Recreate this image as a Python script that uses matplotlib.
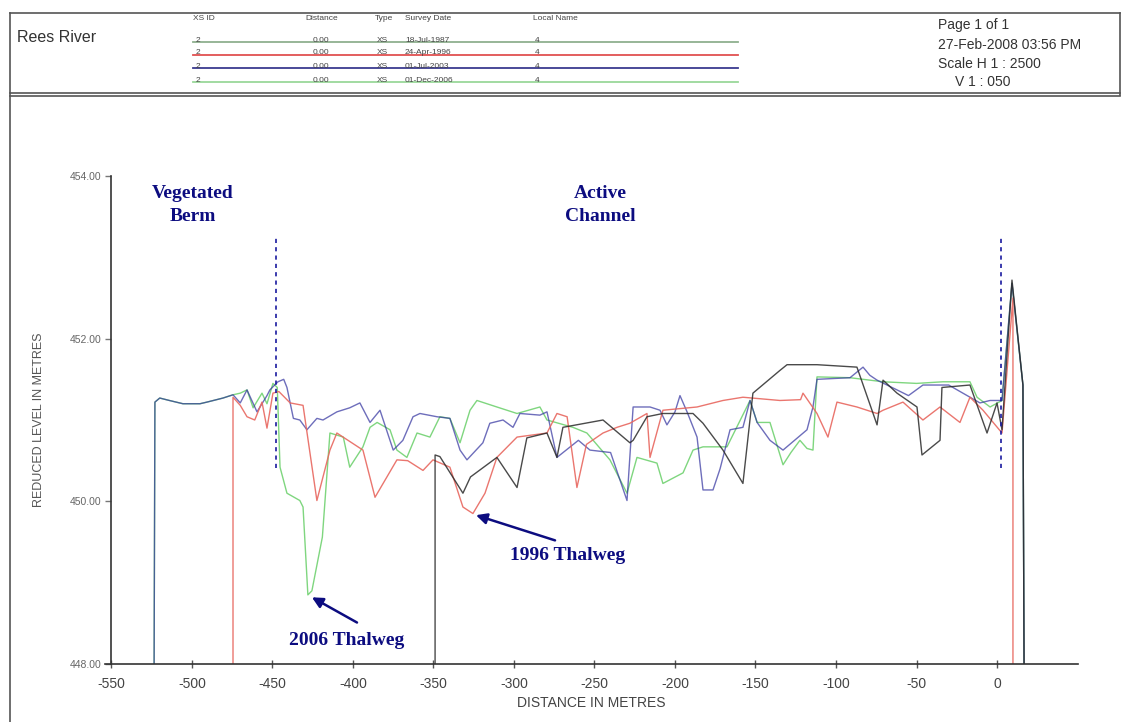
import matplotlib
matplotlib.use("Agg")
import matplotlib.pyplot as plt
from matplotlib.lines import Line2D

plt.rcParams["font.family"] = ["Liberation Sans", "DejaVu Sans"]

# survey table shown in the header
SURVEY_DATES = ["18-Jul-1987", "24-Apr-1996", "01-Jul-2003", "01-Dec-2006"]
XS_IDS = ["2", "2", "2", "2"]
DISTANCES = ["0.00", "0.00", "0.00", "0.00"]
TYPES = ["XS", "XS", "XS", "XS"]
LOCAL_NAMES = ["4", "4", "4", "4"]

# cross-section profiles (distance m, reduced level m)
d1987 = [-349, -349, -346, -331.7, -327, -310.6, -298.1, -292, -279.5, -273.3,
         -269.6, -244.7, -228, -226, -217.4, -207.5, -188.8, -182.6, -170.2,
         -157.8, -151.6, -134.8, -130.4, -111.8, -87, -74.5, -70.8, -62.1,
         -49.7, -46.6, -35.4, -34.2, -16.8, -6.2, 0, 3.1, 9.3, 16.1, 16.8]
z1987 = [448.0, 450.57, 450.55, 450.10, 450.30, 450.54, 450.17, 450.78, 450.84,
         450.54, 450.91, 451.00, 450.72, 450.75, 451.04, 451.08, 451.08, 450.96,
         450.63, 450.22, 451.33, 451.61, 451.68, 451.68, 451.65, 450.94, 451.49,
         451.33, 451.16, 450.57, 450.75, 451.40, 451.43, 450.84, 451.21, 450.88,
         452.72, 451.43, 448.0]

d1996 = [-474.5, -474.5, -470, -465.8, -461, -456.5, -453.4, -449.7, -446, -439,
         -431, -422.4, -414.3, -410, -393.8, -386.3, -372.7, -366, -356.5,
         -350.3, -339.8, -331.7, -325.5, -318, -310.6, -298.1, -279.5, -273.3,
         -267, -260.9, -255, -244.7, -236, -228, -217.4, -215.5, -207.5, -186.3,
         -170.2, -157.8, -134.8, -122, -120.5, -111.8, -105, -99.4, -87, -74.5,
         -70.8, -58.4, -46, -35.4, -23, -16.8, -8.7, 3.1, 9.9, 9.9]
z1996 = [448.0, 451.28, 451.18, 451.04, 451.00, 451.22, 450.90, 451.33, 451.35,
         451.21, 451.18, 450.01, 450.63, 450.84, 450.63, 450.05, 450.51, 450.50,
         450.38, 450.51, 450.42, 449.93, 449.85, 450.10, 450.54, 450.79, 450.84,
         451.08, 451.04, 450.17, 450.70, 450.84, 450.91, 450.96, 451.08, 450.54,
         451.12, 451.16, 451.24, 451.28, 451.24, 451.25, 451.33, 451.08, 450.79,
         451.22, 451.16, 451.08, 451.12, 451.22, 451.00, 451.16, 450.97, 451.28,
         451.12, 450.84, 452.50, 448.0]

d2003 = [-523.5, -523, -520, -514, -505.6, -495, -490.7, -480.7, -474.5, -470,
         -465.8, -459.6, -453.4, -451.6, -446.6, -443, -441, -437, -433, -428.6,
         -422.4, -418.6, -410, -402, -395.7, -389.4, -383.2, -375, -369, -362.7,
         -358.4, -347.8, -339.8, -333.5, -329.2, -319.3, -315, -306.8, -300.6,
         -296.3, -283.9, -279.5, -273.3, -260, -252.8, -240, -229.8, -226,
         -215.5, -209.3, -205, -200, -196.9, -192.5, -186.3, -182.6, -176.4, -172,
         -165.8, -157.8, -153.4, -149, -141, -132.9, -118, -114.3, -111.8, -91.3,
         -83.2, -79, -74.5, -62.1, -55, -46, -30, -10.6, -4.3, 3.1, 9.3, 16.1,
         16.8]
z2003 = [448.0, 451.22, 451.27, 451.24, 451.20, 451.20, 451.22, 451.27, 451.31,
         451.21, 451.37, 451.10, 451.30, 451.37, 451.47, 451.50, 451.40, 451.02,
         451.00, 450.88, 451.02, 451.00, 451.10, 451.15, 451.21, 450.97, 451.12,
         450.63, 450.75, 451.04, 451.08, 451.04, 451.02, 450.63, 450.51, 450.72,
         450.96, 451.00, 450.91, 451.08, 451.06, 451.10, 450.54, 450.75, 450.63,
         450.60, 450.01, 451.16, 451.16, 451.12, 450.94, 451.10, 451.30, 451.10,
         450.79, 450.14, 450.14, 450.40, 450.88, 450.91, 451.24, 450.97, 450.75,
         450.63, 450.88, 451.16, 451.50, 451.52, 451.65, 451.55, 451.49, 451.37,
         451.30, 451.43, 451.43, 451.21, 451.24, 451.24, 452.68, 451.43, 448.0]

d2006 = [-523.5, -523, -520, -514, -505.6, -495, -490.7, -480.7, -474.5, -470,
         -465.8, -462, -456.5, -453.4, -449.7, -447, -445.3, -441, -433, -431,
         -428, -425.5, -419, -414.3, -406, -402, -393.8, -389.4, -385, -377,
         -372.7, -366.5, -360.2, -352.2, -346, -339.8, -333.5, -327.3, -323,
         -310.6, -298.1, -283.9, -279.5, -263.4, -254.7, -240.4, -229.8, -223.6,
         -211.2, -207.5, -195, -188.8, -182.6, -167.7, -153.4, -149, -141, -132.9,
         -128, -122.4, -118, -114.3, -111.8, -91.3, -70.8, -50, -33.5, -16.8,
         -12.4, -4.3, 3.1, 9.3, 16.1, 16.8]
z2006 = [448.0, 451.22, 451.27, 451.24, 451.20, 451.20, 451.22, 451.27, 451.31,
         451.33, 451.37, 451.15, 451.33, 451.20, 451.45, 451.40, 450.42, 450.10,
         450.01, 449.93, 448.85, 448.90, 449.56, 450.84, 450.79, 450.42, 450.67,
         450.91, 450.97, 450.88, 450.63, 450.54, 450.84, 450.79, 451.04, 451.02,
         450.72, 451.12, 451.24, 451.16, 451.08, 451.16, 451.00, 450.91, 450.84,
         450.51, 450.10, 450.54, 450.47, 450.22, 450.35, 450.63, 450.67, 450.67,
         451.24, 450.97, 450.97, 450.45, 450.60, 450.75, 450.65, 450.63, 451.53,
         451.52, 451.47, 451.45, 451.47, 451.47, 451.28, 451.16, 451.24, 452.68,
         451.43, 448.0]

ZONE_BOUNDS = [-448, 2.6]
X_TICKS = list(range(-550, 1, 50))
Y_TICKS = [448, 450, 452, 454]

LINE_COLORS = ["#2a2a2a", "#e8675f", "#30309e", "#7fd67f"]
HEADER_COLORS = ["#8fb08f", "#e05050", "#3a3a90", "#9ad89a"]
NAVY = "#0c0c80"

W, H = 1129, 722
fig = plt.figure(figsize=(W / 100, H / 100), dpi=100)

# page frame and header, drawn in pixel units
page = fig.add_axes([0, 0, 1, 1], zorder=0)
page.set_xlim(0, W)
page.set_ylim(H, 0)
page.axis("off")
frame = dict(color="#555555", lw=1.2)
page.add_line(Line2D([10, 1120], [13, 13], **frame))
page.add_line(Line2D([10, 10], [13, H], **frame))
page.add_line(Line2D([1120, 1120], [13, 95], **frame))
page.add_line(Line2D([10, 1120], [93, 93], **frame))
page.add_line(Line2D([10, 1120], [96, 96], **frame))
page.text(17, 37, "Rees River", fontsize=11.5, color="#333333", va="center")

hdr = dict(fontsize=6, color="#444444", va="center")
for x, lab in zip([193, 305, 375, 405, 533],
                  ["XS ID", "Distance", "Type", "Survey Date", "Local Name"]):
    page.text(x, 18, lab, **hdr)
row_y = [40, 53, 66, 80]
for i, y in enumerate(row_y):
    page.add_line(Line2D([193, 738], [y + 2, y + 2], color=HEADER_COLORS[i], lw=1.3))
    page.text(196, y, XS_IDS[i], **hdr)
    page.text(313, y, DISTANCES[i], **hdr)
    page.text(377, y, TYPES[i], **hdr)
    page.text(405, y, SURVEY_DATES[i], **hdr)
    page.text(535, y, LOCAL_NAMES[i], **hdr)

info = dict(fontsize=10, color="#333333", va="center")
page.text(938, 25, "Page 1 of 1", **info)
page.text(938, 45, "27-Feb-2008 03:56 PM", **info)
page.text(938, 64, "Scale H 1 : 2500", **info)
page.text(955, 82, "V 1 : 050", **info)

# main cross-section plot
ax = fig.add_axes([105 / W, (H - 664) / H, (1078 - 105) / W, (664 - 176) / H], zorder=1)
ax.patch.set_alpha(0)
ax.set_xlim(-554.0, 50.3)
ax.set_ylim(448, 454)

ax.plot(d2006, z2006, color=LINE_COLORS[3], lw=1.0)
ax.plot(d2003, z2003, color=LINE_COLORS[2], lw=1.0, alpha=0.7)
ax.plot(d1996, z1996, color=LINE_COLORS[1], lw=1.0, alpha=0.9)
ax.plot(d1987, z1987, color=LINE_COLORS[0], lw=1.0, alpha=0.85)

for xb in ZONE_BOUNDS:
    ax.plot([xb, xb], [450.41, 453.24], color="#1a1aa0", lw=1.2, ls=(0, (2.5, 2.5)))

for side in ["top", "right"]:
    ax.spines[side].set_visible(False)
ax.spines["left"].set_position(("data", -550))
ax.spines["left"].set_bounds(448, 454)
for side in ["left", "bottom"]:
    ax.spines[side].set_color("#333333")
    ax.spines[side].set_linewidth(1.2)

ax.set_xticks(X_TICKS)
ax.set_xticklabels([str(v) for v in X_TICKS])
ax.set_yticks(Y_TICKS)
ax.set_yticklabels([f"{v:.2f}" for v in Y_TICKS])
ax.tick_params(axis="x", direction="inout", length=6, width=1, color="#555555",
               labelsize=10, labelcolor="#444444", pad=6)
ax.tick_params(axis="y", direction="out", length=4, width=1, color="#777777",
               labelsize=7.5, labelcolor="#666666", pad=3)
ax.set_xlabel("DISTANCE IN METRES", fontsize=10, color="#444444", labelpad=4)
ax.set_ylabel("REDUCED LEVEL IN METRES", fontsize=9, color="#555555", labelpad=18)

note = dict(fontsize=14, fontweight="bold", color=NAVY, ha="center", va="center",
            family=["Liberation Serif", "DejaVu Serif"], linespacing=1.45)
ax.text(-499.4, 453.64, "Vegetated\nBerm", **note)
ax.text(-246.6, 453.64, "Active\nChannel", **note)
ax.text(-403.7, 448.29, "2006 Thalweg", **note)
ax.text(-266.5, 449.33, "1996 Thalweg", **note)
arrow = dict(arrowstyle="-|>", color=NAVY, lw=1.8, mutation_scale=16,
             shrinkA=0, shrinkB=0)
ax.annotate("", xy=(-425.5, 448.82), xytext=(-397.5, 448.51), arrowprops=arrow)
ax.annotate("", xy=(-323.6, 449.83), xytext=(-274.5, 449.52), arrowprops=arrow)

fig.savefig("out.png", dpi=100)
